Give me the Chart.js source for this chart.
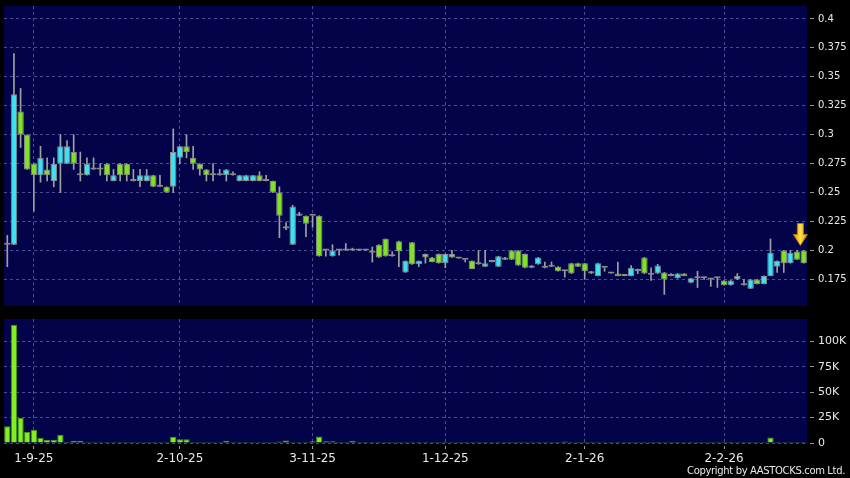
<!DOCTYPE html>
<html><head><meta charset="utf-8">
<script src="https://cdn.jsdelivr.net/npm/chart.js@4.4.1/dist/chart.umd.min.js"></script>
<style>
html,body{margin:0;padding:0;background:#000;}
#wrap{position:relative;width:850px;height:478px;overflow:hidden;background:#000;}
#pw{position:absolute;left:0;top:0;width:850px;height:312px;}
#vw{position:absolute;left:0;top:312px;width:850px;height:166px;}
#copy{position:absolute;right:5px;top:466px;font:10px 'DejaVu Sans',sans-serif;line-height:10px;letter-spacing:-0.35px;color:#e8e8e8;white-space:nowrap;}
</style></head>
<body><div id="wrap">
<div id="pw"><canvas id="price" width="850" height="312"></canvas></div>
<div id="vw"><canvas id="vol" width="850" height="166"></canvas></div>
<div id="copy">Copyright by AASTOCKS.com Ltd.</div>
</div>
<script>
const dates = [
 '26-8-25','27-8-25','28-8-25','29-8-25',
 '1-9-25','2-9-25','3-9-25','4-9-25','5-9-25','8-9-25','9-9-25','10-9-25','11-9-25','12-9-25','15-9-25','16-9-25','17-9-25','18-9-25','19-9-25','22-9-25','23-9-25','24-9-25','25-9-25','26-9-25','29-9-25','30-9-25',
 '2-10-25','3-10-25','6-10-25','8-10-25','9-10-25','10-10-25','13-10-25','14-10-25','15-10-25','16-10-25','17-10-25','20-10-25','21-10-25','22-10-25','23-10-25','24-10-25','27-10-25','28-10-25','30-10-25','31-10-25',
 '3-11-25','4-11-25','5-11-25','6-11-25','7-11-25','10-11-25','11-11-25','12-11-25','13-11-25','14-11-25','17-11-25','18-11-25','19-11-25','20-11-25','21-11-25','24-11-25','25-11-25','26-11-25','27-11-25','28-11-25',
 '1-12-25','2-12-25','3-12-25','4-12-25','5-12-25','8-12-25','9-12-25','10-12-25','11-12-25','12-12-25','15-12-25','16-12-25','17-12-25','18-12-25','19-12-25','22-12-25','23-12-25','24-12-25','29-12-25','30-12-25','31-12-25',
 '2-1-26','5-1-26','6-1-26','7-1-26','8-1-26','9-1-26','12-1-26','13-1-26','14-1-26','15-1-26','16-1-26','19-1-26','20-1-26','21-1-26','22-1-26','23-1-26','26-1-26','27-1-26','28-1-26','29-1-26','30-1-26',
 '2-2-26','3-2-26','4-2-26','5-2-26','6-2-26','9-2-26','10-2-26','11-2-26','12-2-26','13-2-26','16-2-26','20-2-26','23-2-26'
];
const xTickLabels = ['1-9-25','2-10-25','3-11-25','1-12-25','2-1-26','2-2-26'];

const open = [
 .205,.205,.32,.30,.275,.265,.27,.26,.275,.275,
 .285,.265,.265,.27,.27,.275,.26,.275,.275,.26,
 .26,.26,.265,.255,.255,.255,.28,.29,.28,.275,
 .27,.265,.265,.265,.265,.26,.26,.26,.265,.26,
 .26,.25,.221,.205,.23,.23,.23,.23,.2,.195,
 .2,.2,.2,.2,.2,.2,.205,.21,.195,.208,
 .181,.207,.188,.197,.194,.197,.189,.197,.193,.192,
 .191,.188,.186,.19,.186,.194,.2,.2,.197,.185,
 .188,.185,.186,.186,.182,.189,.189,.189,.182,.178,
 .185,.18,.18,.178,.178,.182,.194,.179,.18,.181,
 .178,.176,.18,.172,.176,.176,.175,.176,.174,.17,
 .175,.171,.167,.175,.171,.178,.186,.2,.189,.199,.2
];
const high = [
 .213,.37,.34,.30,.275,.29,.28,.28,.30,.295,
 .30,.285,.28,.28,.275,.275,.27,.275,.275,.27,
 .27,.27,.265,.265,.255,.305,.29,.30,.29,.275,
 .27,.275,.27,.27,.268,.265,.265,.265,.268,.265,
 .26,.255,.224,.239,.233,.23,.23,.23,.2,.205,
 .2,.206,.202,.2,.2,.203,.205,.21,.199,.208,
 .191,.207,.191,.197,.194,.197,.197,.2,.193,.192,
 .191,.2,.2,.19,.195,.194,.2,.2,.197,.187,
 .194,.19,.19,.186,.182,.189,.189,.189,.182,.189,
 .185,.18,.19,.178,.187,.184,.194,.185,.188,.181,
 .18,.18,.18,.176,.182,.177,.175,.176,.174,.174,
 .18,.175,.175,.175,.178,.21,.191,.2,.2,.2,.2
];
const low = [
 .186,.205,.289,.27,.234,.259,.26,.255,.25,.275,
 .27,.26,.265,.27,.265,.26,.26,.26,.26,.26,
 .255,.26,.255,.255,.25,.25,.275,.28,.27,.265,
 .26,.26,.265,.26,.265,.26,.26,.26,.26,.26,
 .25,.211,.218,.205,.23,.212,.22,.195,.195,.195,
 .196,.2,.2,.2,.2,.19,.194,.195,.195,.186,
 .181,.188,.186,.189,.19,.189,.185,.194,.193,.19,
 .184,.188,.186,.19,.186,.192,.192,.187,.185,.185,
 .188,.185,.186,.182,.177,.18,.186,.175,.18,.178,
 .182,.18,.178,.178,.178,.18,.18,.174,.18,.162,
 .178,.176,.178,.172,.168,.175,.169,.168,.17,.17,
 .175,.17,.167,.171,.171,.178,.181,.181,.189,.192,.189
];
const close = [
 .205,.335,.30,.27,.265,.28,.265,.275,.29,.29,
 .275,.265,.275,.27,.27,.265,.265,.265,.265,.26,
 .265,.265,.255,.255,.25,.285,.29,.285,.275,.27,
 .265,.265,.265,.27,.265,.265,.265,.265,.26,.26,
 .25,.23,.219,.238,.232,.223,.23,.195,.2,.2,
 .2,.2,.2,.2,.2,.198,.194,.195,.195,.199,
 .191,.188,.191,.194,.19,.189,.197,.194,.193,.192,
 .184,.188,.189,.19,.195,.192,.192,.187,.185,.187,
 .194,.185,.186,.182,.182,.18,.186,.182,.18,.189,
 .185,.18,.178,.178,.185,.184,.18,.179,.187,.175,
 .178,.18,.178,.176,.176,.176,.175,.176,.17,.174,
 .178,.17,.175,.171,.178,.198,.191,.189,.198,.192,.189
];
const volume = [
 16500,116400,24600,10800,13000,5200,3200,3200,8200,1300,
 2300,2300,800,700,800,800,800,800,800,800,
 300,300,300,300,300,6200,3600,3600,500,500,
 800,500,400,2300,300,300,200,300,300,400,
 1000,1500,2400,300,200,1200,1800,6300,1800,1800,
 300,1000,2200,800,1000,400,300,200,300,200,
 300,200,300,200,300,200,200,300,200,200,
 300,200,300,200,200,300,200,1000,200,200,
 200,200,200,200,1400,200,200,200,200,1000,
 200,200,200,200,200,200,200,200,200,1000,
 200,200,1000,200,200,200,500,200,200,200,
 200,200,600,200,200,5400,800,800,300,300,300
];
const priceTicks = [0.175,0.2,0.225,0.25,0.275,0.3,0.325,0.35,0.375,0.4];
const volumeTicks = [0,25000,50000,75000,100000];

const PLOT_BG = '#030349';
const GRID = '#4c4c94';
const UP = '#3fe1f0';
const DOWN = '#80e322';
const EDGE = '#8a8a8a';
const WICK = '#a0a0a0';
const TXT = '#e8e8e8';
const FONT = "'DejaVu Sans', sans-serif";

Chart.defaults.font.family = FONT;
const tickSet = new Set(xTickLabels);
const isTick = i => tickSet.has(dates[i]);
const noPad = s => { s.paddingTop = 0; s.paddingBottom = 0; };

const bgPlugin = {id:'bg', beforeDraw(c){const a=c.chartArea,ctx=c.ctx;ctx.save();ctx.fillStyle=PLOT_BG;ctx.fillRect(a.left,a.top,a.right-a.left,a.bottom-a.top);ctx.restore();}};

const arrowPlugin = {id:'arrow', afterDatasetsDraw(c){
  const xs=c.scales.x, ys=c.scales.y, n=dates.length, ctx=c.ctx;
  const cx=(xs.getPixelForValue(n-2)+xs.getPixelForValue(n-1))/2;
  const tip=ys.getPixelForValue(Math.max(high[n-1],high[n-2]))-5;
  const top=tip-22, shaftW=6, headW=14, headH=11;
  const g=ctx.createLinearGradient(cx-headW/2,0,cx+headW/2,0);
  g.addColorStop(0,'#e39200');g.addColorStop(0.5,'#ffe14a');g.addColorStop(1,'#e39200');
  ctx.save();ctx.beginPath();
  ctx.moveTo(cx-shaftW/2,top);ctx.lineTo(cx+shaftW/2,top);ctx.lineTo(cx+shaftW/2,tip-headH);
  ctx.lineTo(cx+headW/2,tip-headH);ctx.lineTo(cx,tip);ctx.lineTo(cx-headW/2,tip-headH);
  ctx.lineTo(cx-shaftW/2,tip-headH);ctx.closePath();
  ctx.fillStyle=g;ctx.fill();ctx.lineWidth=1;ctx.strokeStyle='#c07a00';ctx.stroke();ctx.restore();
}};

const xGrid = {offset:false, drawTicks:false, color:c=>isTick(c.index)?GRID:'rgba(0,0,0,0)', lineWidth:1};

new Chart(document.getElementById('price'), {
  type:'bar',
  data:{labels:dates, datasets:[
    {data:dates.map((d,i)=>[open[i],close[i]]), backgroundColor:dates.map((d,i)=>close[i]>=open[i]?UP:DOWN),
     borderColor:EDGE, borderWidth:1, borderSkipped:false, minBarLength:2, grouped:false,
     barPercentage:0.97, categoryPercentage:1, order:1},
    {data:dates.map((d,i)=>[low[i],high[i]]), backgroundColor:WICK, borderWidth:0, barThickness:1, grouped:false, order:2}
  ]},
  options:{responsive:false, animation:false, events:[],
    layout:{padding:{left:4, top:6, bottom:6, right:0}},
    plugins:{legend:{display:false}, tooltip:{enabled:false}},
    scales:{
      x:{type:'category', offset:true, grid:xGrid, border:{display:false, dash:[3,3]},
         ticks:{display:false, autoSkip:false}, afterFit:s=>{s.height=0; s.paddingLeft=0; s.paddingRight=0;}},
      y:{position:'right', min:0.152, max:0.4112,
         afterBuildTicks:s=>{s.ticks=priceTicks.map(v=>({value:v}));},
         afterFit:s=>{s.width=43; noPad(s);},
         grid:{color:GRID, tickColor:'#9a9a9a', tickLength:7, tickBorderDash:[0,3,4,100]},
         border:{display:false, dash:[3,3]},
         ticks:{color:TXT, padding:4, font:{size:10, family:FONT}, callback:v=>String(+(+v).toFixed(3))}}
    }},
  plugins:[bgPlugin, arrowPlugin]
});

new Chart(document.getElementById('vol'), {
  type:'bar',
  data:{labels:dates, datasets:[
    {data:volume, backgroundColor:'#80f020', borderColor:'#4a9412', borderWidth:1, borderSkipped:'start',
     minBarLength:1, barPercentage:0.95, categoryPercentage:1}
  ]},
  options:{responsive:false, animation:false, events:[],
    layout:{padding:{left:4, top:7, bottom:0, right:0}},
    plugins:{legend:{display:false}, tooltip:{enabled:false}},
    scales:{
      x:{type:'category', offset:true,
         grid:{offset:false, drawTicks:true, tickLength:6, tickBorderDash:[0,3,3,100],
               color:c=>isTick(c.index)?GRID:'rgba(0,0,0,0)', tickColor:c=>isTick(c.index)?'#9a9a9a':'rgba(0,0,0,0)'},
         border:{display:false, dash:[3,3]},
         ticks:{autoSkip:false, maxRotation:0, minRotation:0, padding:3, color:TXT, font:{size:12, family:FONT},
                callback:(v,i)=>isTick(i)?dates[i]:''},
         afterFit:s=>{s.height=35; s.paddingLeft=0; s.paddingRight=0;}},
      y:{position:'right', min:0, max:122000,
         afterBuildTicks:s=>{s.ticks=volumeTicks.map(v=>({value:v}));},
         afterFit:s=>{s.width=43; noPad(s);},
         grid:{color:GRID, tickColor:'#9a9a9a', tickLength:7, tickBorderDash:[0,3,4,100]},
         border:{display:false, dash:[3,3]},
         ticks:{color:TXT, padding:4, font:{size:11, family:FONT}, callback:v=>v===0?'0':(v/1000)+'K'}}
    }},
  plugins:[bgPlugin]
});
</script>
</body></html>
